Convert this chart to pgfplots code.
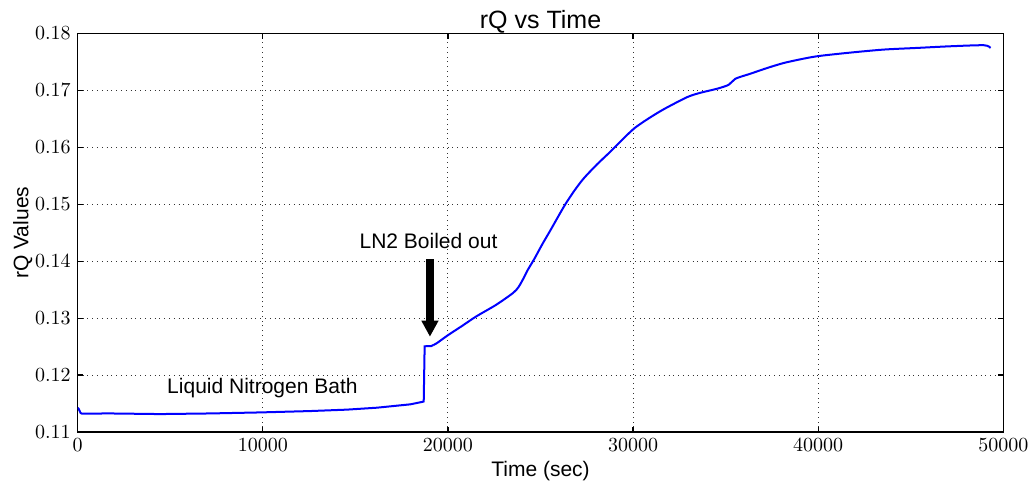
\documentclass[border=0pt]{standalone}
\usepackage{fontspec}
\setmainfont{Liberation Sans}
\usepackage{pgfplots}
\pgfplotsset{compat=1.18}
\usetikzlibrary{arrows.meta}
\definecolor{lineblue}{RGB}{0,0,255}
\begin{document}
\begin{tikzpicture}
\begin{axis}[
  scale only axis, width=462.5pt, height=199.1pt,
  xmin=0, xmax=50000, ymin=0.11, ymax=0.18,
  xtick={0,10000,20000,30000,40000,50000},
  ytick={0.11,0.12,0.13,0.14,0.15,0.16,0.17,0.18},
  scaled x ticks=false, scaled y ticks=false,
  xticklabel style={/pgf/number format/1000 sep={}},
  yticklabel style={/pgf/number format/fixed, /pgf/number format/precision=2, /pgf/number format/fixed zerofill},
  tick label style={font=\fontsize{10}{12}\selectfont},
  grid=major, grid style={black!80, dotted, line width=0.5pt},
  axis line style={line width=0.7pt},
  major tick length=2.5pt, tick style={black, line width=0.6pt},
  tick align=inside,
]
\addplot[lineblue, line width=1pt] coordinates {
(0,0.11426) (60,0.1140) (150,0.11335) (216,0.11322) (1750,0.11325) (4450,0.11314)
(7150,0.11325) (9856,0.11343) (12560,0.11367) (14540,0.11392) (16160,0.11426)
(17964,0.11485) (18595,0.11527) (18690,0.11535) (18740,0.12505) (19100,0.12509)
(19200,0.12525)
};
\addplot[lineblue, line width=1pt, smooth, tension=0.45] coordinates {
(19200,0.12525) (19400,0.1256) (20000,0.1270) (20750,0.1286) (21530,0.1303)
(22610,0.13235) (23510,0.1344) (23800,0.1354) (24050,0.1368) (24300,0.1384)
(24665,0.1404) (25100,0.1430) (25530,0.1454) (25930,0.1477) (26340,0.1500)
(26830,0.1524) (27330,0.15453) (28050,0.1570) (28773,0.15924) (29400,0.1613)
(30070,0.16335) (30800,0.1650) (31660,0.1667) (32920,0.16882) (33638,0.16959)
(34541,0.1703) (35171,0.1710) (35530,0.17206) (36340,0.17294) (37243,0.17394)
(38140,0.17482) (39222,0.17559) (40070,0.17606) (41746,0.17665) (43546,0.17718)
(45351,0.17747) (47151,0.17776) (48951,0.17794) (49314,0.17747)
};
\node[anchor=base, font=\fontsize{10.5}{12}\selectfont] at (axis cs:9978,0.11675) {Liquid Nitrogen Bath};
\node[anchor=base, font=\fontsize{10.5}{12}\selectfont] at (axis cs:18950,0.14223) {LN2 Boiled out};
\draw[line width=3.6pt, -{Triangle[width=8pt,length=8pt]}] (axis cs:19027,0.1403) -- (axis cs:19027,0.12673);
\end{axis}
\node[anchor=base, font=\fontsize{12.5}{14}\selectfont] at ([yshift=2.6pt]current axis.north) {rQ vs Time};
\node[anchor=base, font=\fontsize{10.5}{12}\selectfont] at ([yshift=-22.5pt]current axis.south) {Time (sec)};
\node[anchor=base, rotate=90, font=\fontsize{10.5}{12}\selectfont] at ([xshift=-24.7pt]current axis.west) {rQ Values};
\pgfresetboundingbox
\path[use as bounding box] ([xshift=-38.85pt,yshift=-26.65pt]current axis.south west) rectangle ([xshift=13.85pt,yshift=16.75pt]current axis.north east);
\end{tikzpicture}
\end{document}
